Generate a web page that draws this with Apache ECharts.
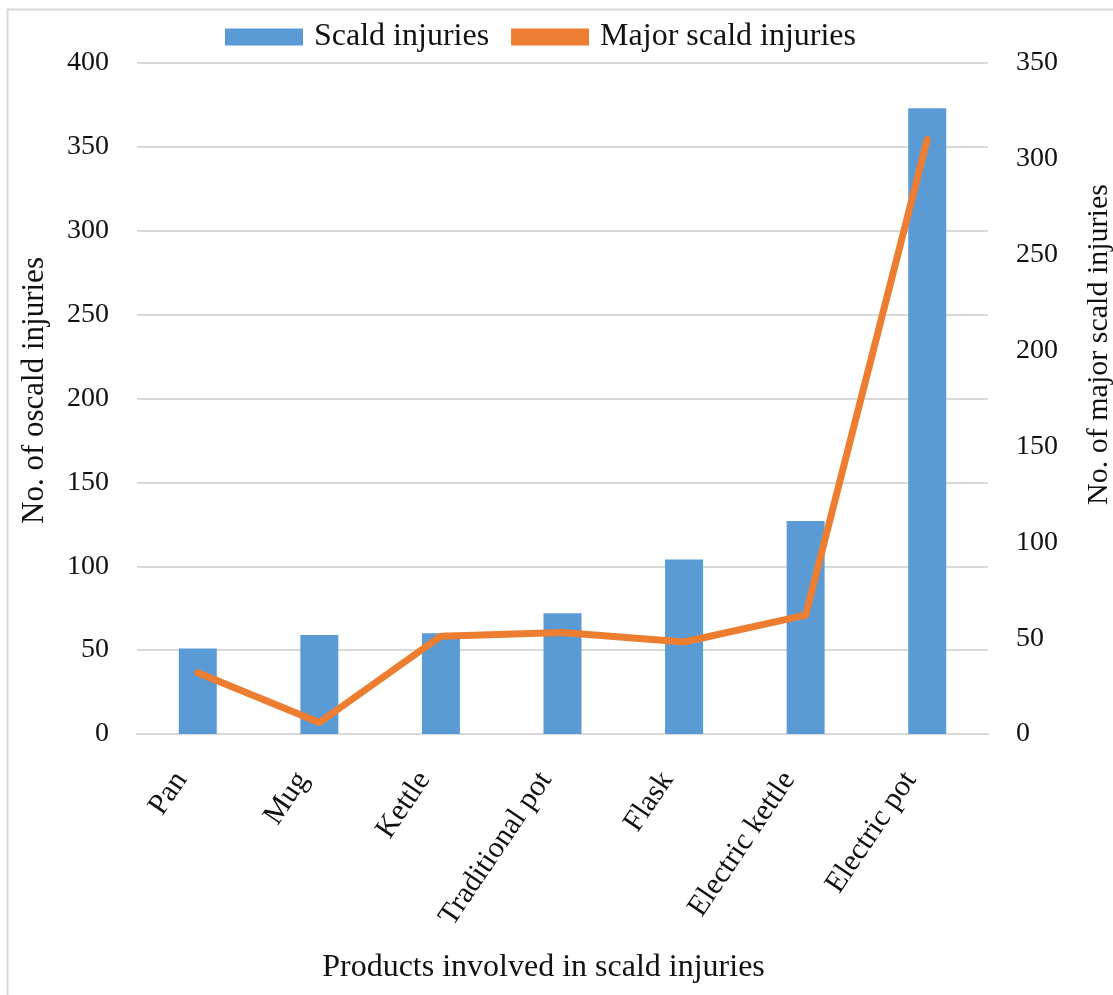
<!DOCTYPE html>
<html>
<head>
<meta charset="utf-8">
<script src="https://cdn.jsdelivr.net/npm/echarts@6/dist/echarts.min.js"></script>
<style>
html,body{margin:0;padding:0;background:#fff;}
#chart{width:1113px;height:995px;}
</style>
</head>
<body>
<div id="chart"></div>
<script>
const categories = ['Pan', 'Mug', 'Kettle', 'Traditional pot', 'Flask', 'Electric kettle', 'Electric pot'];
const scaldInjuries = [51, 59, 60, 72, 104, 127, 373];
const majorScaldInjuries = [32, 6, 51, 53, 48, 62, 310];
const leftTicks = [0, 50, 100, 150, 200, 250, 300, 350, 400];
const rightTicks = [0, 50, 100, 150, 200, 250, 300, 350];

const FONT = '"Liberation Serif", "Times New Roman", serif';
const chart = echarts.init(document.getElementById('chart'), null, {renderer: 'canvas'});
chart.setOption({
  animation: false,
  backgroundColor: '#fff',
  graphic: [{
    type: 'rect', left: 5, top: 7, silent: true, z: -1,
    shape: {width: 1200, height: 1200},
    style: {fill: 'none', stroke: '#d9d9d9', lineWidth: 2}
  }],
  legend: {
    top: 16, left: 220,
    itemWidth: 78, itemHeight: 17, itemGap: 22,
    textStyle: {fontFamily: FONT, fontSize: 32, color: '#111', padding: [0, 0, 0, 6]},
    data: [
      {name: 'Scald injuries', icon: 'rect'},
      {name: 'Major scald injuries', icon: 'rect', itemStyle: {color: '#ED7D31'}}
    ]
  },
  grid: {left: 137, right: 125, top: 63, bottom: 261, containLabel: false, outerBoundsMode: 'none'},
  xAxis: {
    type: 'category',
    data: categories,
    axisLine: {show: true, lineStyle: {color: '#d9d9d9', width: 2}},
    axisTick: {show: false},
    axisLabel: {rotate: 56, fontFamily: FONT, fontSize: 30, color: '#111', margin: 16,
      padding: [0, 30, 0, 0], interval: 0},
    name: 'Products involved in scald injuries',
    nameLocation: 'middle',
    nameGap: 218,
    nameTextStyle: {fontFamily: FONT, fontSize: 32, color: '#111', padding: [0, 38, 0, 0]}
  },
  yAxis: [{
    type: 'value', min: 0, max: 400, interval: 50,
    axisLine: {show: false}, axisTick: {show: false},
    splitLine: {show: true, lineStyle: {color: '#d9d9d9', width: 2}},
    axisLabel: {fontFamily: FONT, fontSize: 28, color: '#111', margin: 28,
      formatter: v => leftTicks.includes(v) ? String(v) : ''},
    name: 'No. of oscald injuries',
    nameLocation: 'middle', nameRotate: 90, nameGap: 87,
    nameTextStyle: {fontFamily: FONT, fontSize: 31, color: '#111', padding: [0, 0, 0, 16]}
  }, {
    type: 'value', min: 0, max: 350, interval: 50, position: 'right',
    axisLine: {show: false}, axisTick: {show: false},
    splitLine: {show: false},
    axisLabel: {fontFamily: FONT, fontSize: 28, color: '#111', margin: 28,
      formatter: v => rightTicks.includes(v) ? String(v) : ''},
    name: 'No. of major scald injuries',
    nameLocation: 'middle', nameRotate: 90, nameGap: 96,
    nameTextStyle: {fontFamily: FONT, fontSize: 30, color: '#111', padding: [0, 0, 0, 108]}
  }],
  series: [{
    name: 'Scald injuries',
    type: 'bar',
    data: scaldInjuries,
    barWidth: 38,
    itemStyle: {color: '#5B9BD5'}
  }, {
    name: 'Major scald injuries',
    type: 'line',
    yAxisIndex: 1,
    data: majorScaldInjuries,
    symbol: 'none',
    lineStyle: {color: '#ED7D31', width: 7, join: 'round', cap: 'round'},
    itemStyle: {color: '#ED7D31'}
  }]
});
</script>
</body>
</html>
